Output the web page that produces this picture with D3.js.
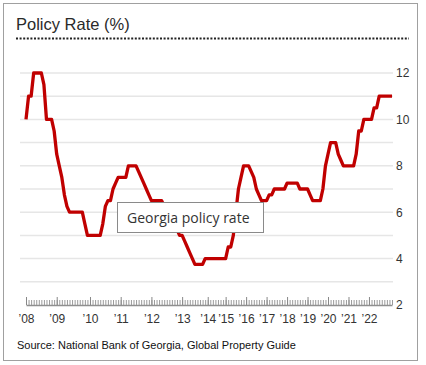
<!DOCTYPE html>
<html>
<head>
<meta charset="utf-8">
<script src="https://cdn.jsdelivr.net/npm/d3@7"></script>
<style>
  html, body { margin: 0; padding: 0; background: #fff; }
  svg { display: block; }
</style>
</head>
<body>
<svg id="chart" width="426" height="365"></svg>
<script>
// ---- Data ----
const years = ["2008","2009","2010","2011","2012","2013","2014","2015","2016","2017","2018","2019","2020","2021","2022"];
const yearLabels = ["’08","’09","’10","’11","’12","’13","’14","’15","’16","’17","’18","’19","’20","’21","’22"];
const obsPerYear = [12,13,12,12,12,10,7,8,8,8,8,8,8,8,10];
const rates = [
  // 2008
  10, 11, 11, 12, 12, 12, 12, 11.5, 10, 10, 10, 9.5,
  // 2009
  8.5, 8, 7.5, 6.75, 6.25, 6, 6, 6, 6, 6, 6, 5.5, 5,
  // 2010
  5, 5, 5, 5, 5, 5.5, 6.25, 6.5, 6.5, 7, 7.25, 7.5,
  // 2011
  7.5, 7.5, 7.5, 8, 8, 8, 8, 7.75, 7.5, 7.25, 7, 6.75,
  // 2012
  6.5, 6.5, 6.5, 6.5, 6.5, 6.25, 6, 5.75, 5.5, 5.5, 5.25, 5,
  // 2013
  5, 4.75, 4.5, 4.25, 4, 3.75, 3.75, 3.75, 3.75, 4,
  // 2014
  4, 4, 4, 4, 4, 4, 4,
  // 2015
  4, 4.5, 4.5, 5, 6, 7, 7.5, 8,
  // 2016
  8, 8, 7.75, 7.5, 7, 6.75, 6.5, 6.5,
  // 2017
  6.5, 6.75, 6.75, 7, 7, 7, 7, 7,
  // 2018
  7.25, 7.25, 7.25, 7.25, 7.25, 7, 7, 7,
  // 2019
  7, 6.75, 6.5, 6.5, 6.5, 6.5, 7, 8,
  // 2020
  8.5, 9, 9, 9, 8.5, 8.25, 8, 8,
  // 2021
  8, 8, 8, 8.5, 9.5, 9.5, 10, 10,
  // 2022
  10, 10, 10.5, 10.5, 11, 11, 11, 11, 11, 11
];
const yTicks = [2, 4, 6, 8, 10, 12];
const gridValues = [3, 4, 5, 6, 7, 8, 9, 10, 11, 12];
const seriesName = "Georgia policy rate";
const titleText = "Policy Rate (%)";
const sourceText = "Source: National Bank of Georgia, Global Property Guide";

// ---- Build categories ----
const periods = [];
const yearStarts = [];
years.forEach((yr, i) => {
  for (let k = 0; k < obsPerYear[i]; k++) {
    const p = yr + "-" + String(k + 1).padStart(2, "0");
    if (k === 0) yearStarts.push(p);
    periods.push(p);
  }
});
const data = periods.map((p, i) => ({ p, v: rates[i] }));
const labelOf = new Map(yearStarts.map((p, i) => [p, yearLabels[i]]));

// ---- Chart ----
const svg = d3.select("#chart");
const font = "'Liberation Sans', Arial, sans-serif";

svg.append("rect")
  .attr("x", 3.5).attr("y", 3.5).attr("width", 414).attr("height", 357)
  .attr("fill", "#fff").attr("stroke", "#a0a0a0");

svg.append("text")
  .attr("x", 16).attr("y", 30)
  .attr("font-family", font).attr("font-size", 16.5).attr("fill", "#2a2a2a")
  .text(titleText);

svg.append("line")
  .attr("x1", 16).attr("x2", 409).attr("y1", 38.5).attr("y2", 38.5)
  .attr("stroke", "#222").attr("stroke-width", 2).attr("stroke-dasharray", "2,1.6");

const x = d3.scalePoint().domain(periods).range([26, 392]);
const y = d3.scaleLinear().domain([2, 12]).range([305, 73]);

// gridlines
svg.append("g").selectAll("line").data(gridValues).join("line")
  .attr("x1", 20).attr("x2", 393)
  .attr("y1", d => y(d)).attr("y2", d => y(d))
  .attr("stroke", "#e6e6e6").attr("stroke-width", 1.5);

// y axis on right
const yAxis = svg.append("g")
  .attr("transform", "translate(393,0)")
  .call(d3.axisRight(y).tickValues(yTicks).tickSize(0).tickPadding(3).tickFormat(d3.format("d")));
yAxis.select(".domain").remove();
yAxis.selectAll("text").attr("font-family", font).attr("font-size", 12).attr("fill", "#333");

// x axis: minor ticks for each observation
const xMinor = svg.append("g")
  .attr("transform", "translate(0,305)")
  .call(d3.axisBottom(x).tickValues(periods).tickSizeInner(-5).tickSizeOuter(0).tickFormat(""));
xMinor.select(".domain").attr("stroke", "#8f8f8f").attr("stroke-width", 1.5);
xMinor.selectAll(".tick line").attr("stroke", "#9a9a9a");

// x axis: year ticks with labels
const xMajor = svg.append("g")
  .attr("transform", "translate(0,305)")
  .call(d3.axisBottom(x).tickValues(yearStarts).tickSizeInner(-8).tickSizeOuter(0)
    .tickPadding(9).tickFormat(d => labelOf.get(d)));
xMajor.select(".domain").remove();
xMajor.selectAll(".tick line").attr("stroke", "#888");
xMajor.selectAll("text").attr("font-family", font).attr("font-size", 12).attr("fill", "#333");

// line
svg.append("path")
  .datum(data)
  .attr("fill", "none")
  .attr("stroke", "#c00000")
  .attr("stroke-width", 3.3)
  .attr("stroke-linejoin", "round")
  .attr("d", d3.line().x(d => x(d.p)).y(d => y(d.v)));

// legend / tooltip box
const lg = svg.append("g");
lg.append("rect")
  .attr("x", 117.5).attr("y", 202.5).attr("width", 146).attr("height", 30)
  .attr("fill", "#fff").attr("stroke", "#8a8a8a");
lg.append("text")
  .attr("x", 127).attr("y", 222.5)
  .attr("font-family", "'Open Sans', 'Noto Sans', sans-serif").attr("font-size", 14).attr("fill", "#333")
  .text(seriesName);

// source
svg.append("text")
  .attr("x", 17).attr("y", 349)
  .attr("font-family", font).attr("font-size", 11).attr("fill", "#111")
  .text(sourceText);
</script>
</body>
</html>
